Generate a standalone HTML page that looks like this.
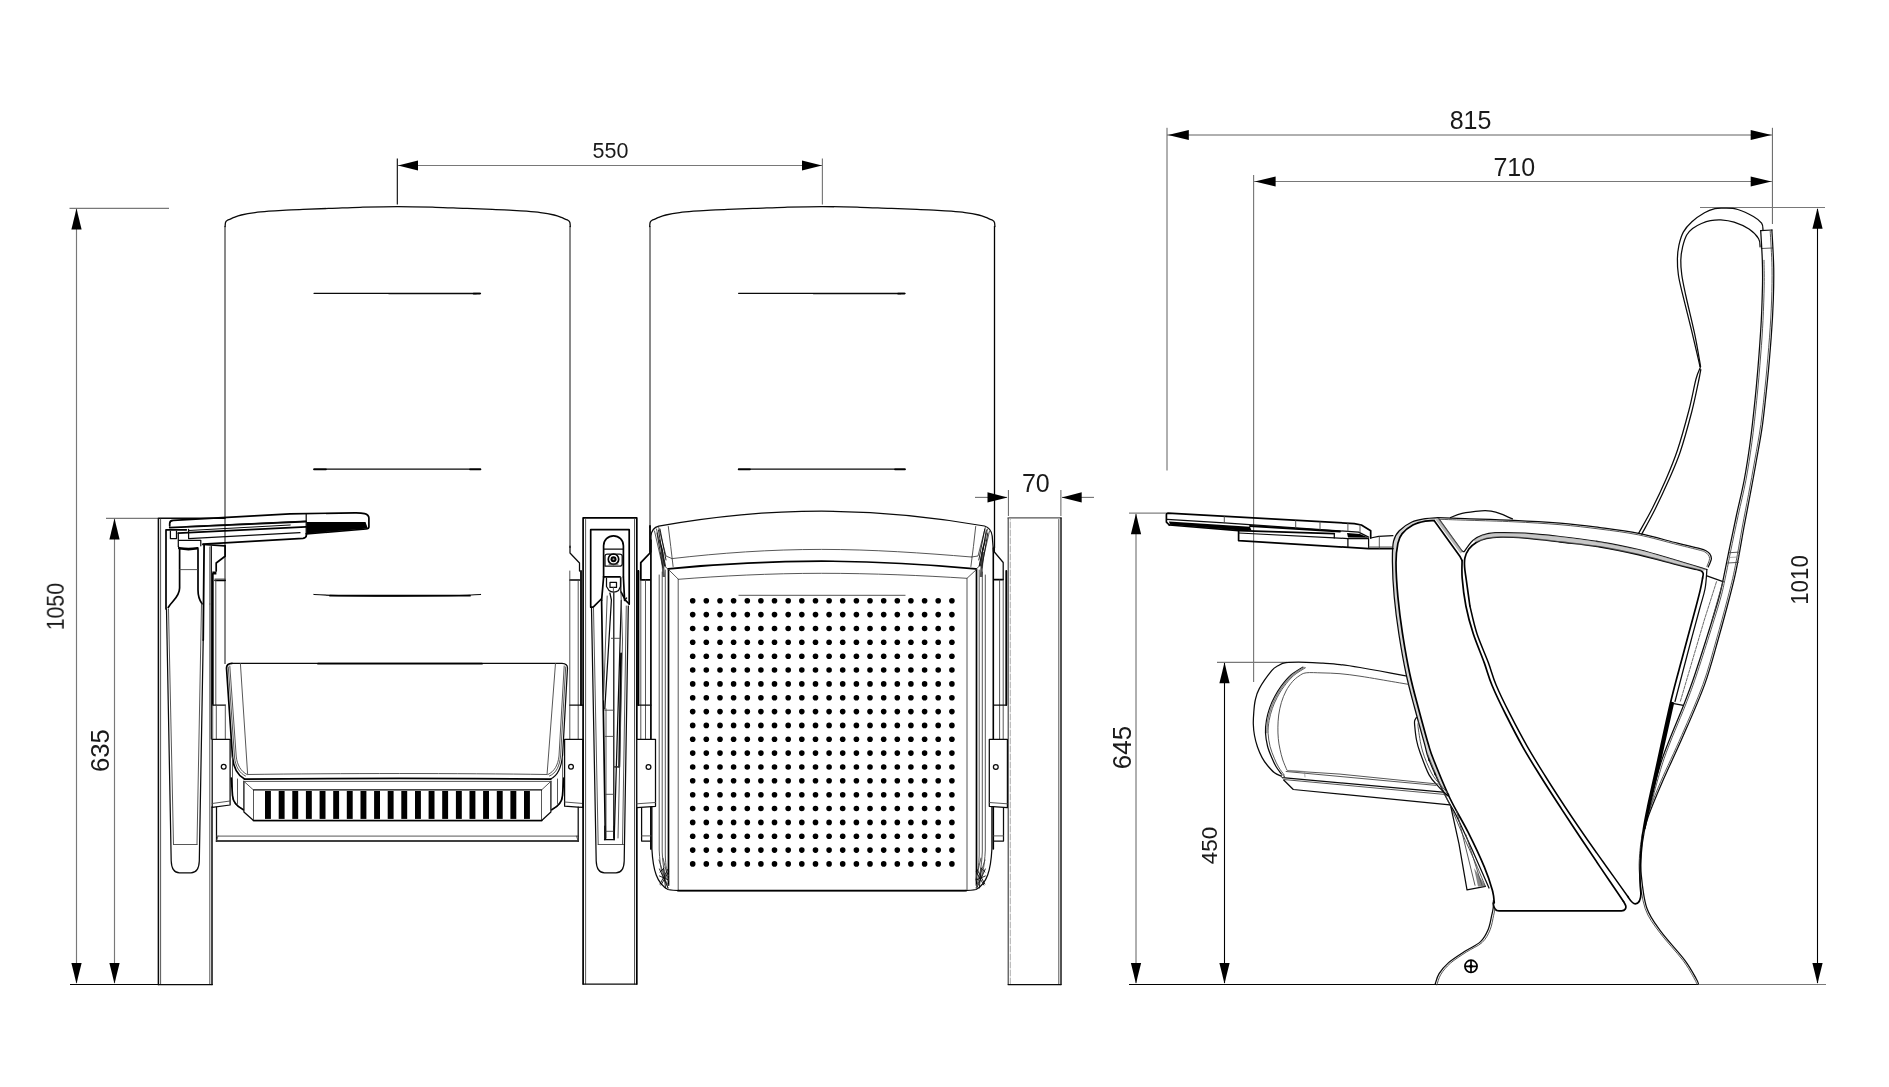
<!DOCTYPE html>
<html><head><meta charset="utf-8"><title>Auditorium chair dimensions</title>
<style>
html,body{margin:0;padding:0;background:#fff;}
body{width:1889px;height:1087px;overflow:hidden;font-family:"Liberation Sans",sans-serif;}
svg{display:block;position:absolute;left:0;top:0;}
svg *{vector-effect:none;}
.k{fill:none;stroke:#000;stroke-width:1.7;stroke-linecap:round;stroke-linejoin:round;}
.m{fill:none;stroke:#0a0a0a;stroke-width:1.25;stroke-linecap:round;stroke-linejoin:round;}
.g{fill:none;stroke:#444;stroke-width:0.9;stroke-linecap:round;stroke-linejoin:round;}
.v{fill:none;stroke:#151515;stroke-width:1;}
.h{fill:none;stroke:#888;stroke-width:0.7;stroke-linecap:round;stroke-linejoin:round;}
.dk{fill:none;stroke:#000;stroke-width:1.1;}
.dg{fill:none;stroke:#787878;stroke-width:1.15;}
.dl{fill:none;stroke:#606060;stroke-width:1;}
.a{fill:#000;stroke:none;}
.b{fill:#000;stroke:none;}
.w{fill:#fff;}
text{font-family:"Liberation Sans",sans-serif;fill:#1a1a1a;}
#dims{opacity:0.999;}
</style></head>
<body>
<svg width="1889" height="1087" viewBox="0 0 1889 1087">
<rect x="0" y="0" width="1889" height="1087" fill="#fff"/>
<!-- dims.svg -->
<g id="dims">
<!-- 1050 -->
<path class="dg" d="M69.500 208.400H169"/>
<path class="dg" d="M76.500 209V983"/>
<!-- 635 -->
<path class="dg" d="M106 518.300H158"/>
<path class="dg" d="M114.500 519V983"/>
<!-- floor left -->
<path class="dk" d="M70 984.500H159"/>
<!-- 550 -->
<path class="dk" d="M397.300 158.500V204.500"/>
<path class="dg" d="M822.400 158.500V204.500"/>
<path class="dg" d="M398 165.500H822"/>
<!-- 70 -->
<path class="dl" d="M1008.400 490V516"/>
<path class="dl" d="M1060.900 490V516"/>
<path class="dg" d="M975 497.400H1007"/>
<path class="dg" d="M1062 497.400H1094"/>
<!-- 815 -->
<path class="dl" d="M1167 127.800V470.500"/>
<path class="dl" d="M1167 135H1772"/>
<path class="dl" d="M1772.400 127.800V224"/>
<!-- 710 -->
<path class="dg" d="M1253.600 175V682"/>
<path class="dg" d="M1254 181.500H1772"/>
<!-- 645 -->
<path class="dl" d="M1129 513.100H1166"/>
<path class="dl" d="M1136 514V983"/>
<!-- 450 -->
<path class="dg" d="M1217 662.300H1287"/>
<path class="dk" d="M1224.500 663V983"/>
<!-- 1010 -->
<path class="dg" d="M1700 207.500H1825"/>
<path class="dk" d="M1817.500 209V983"/>
<!-- floor right -->
<path class="dk" d="M1129 984.500H1698"/>
<path class="dg" d="M1698 984.500H1826"/>
<!-- labels -->
<text x="610.500" y="158.200" font-size="21.500" text-anchor="middle">550</text>
<text x="1035.800" y="491.500" font-size="25" text-anchor="middle">70</text>
<text x="1470.500" y="129.100" font-size="25" text-anchor="middle">815</text>
<text x="1514.300" y="176.100" font-size="25" text-anchor="middle">710</text>
<text transform="translate(63.800 606.600) rotate(-90) scale(0.870 1)" font-size="24.500" text-anchor="middle">1050</text>
<text transform="translate(109.200 750.600) rotate(-90) scale(0.970 1)" font-size="26.500" text-anchor="middle">635</text>
<text transform="translate(1130.600 747.600) rotate(-90)" font-size="26" text-anchor="middle">645</text>
<text transform="translate(1216.800 845.400) rotate(-90)" font-size="22.500" fill="#333" text-anchor="middle">450</text>
<text transform="translate(1808.300 580) rotate(-90) scale(0.950 1)" font-size="23.500" fill="#333" text-anchor="middle">1010</text>
</g>

<!-- front_left.svg -->
<g id="front-left">
<!-- left end leg panel -->
<path class="m" d="M158.400 984.500V518.200H225" style="stroke-width:1.500"/>
<path class="g" d="M160.600 984V519"/>
<path class="g" d="M209.800 984V604"/>
<path class="m" d="M212 984.500V807" style="stroke-width:1.500"/>
<path class="m" d="M158 984.500H212.300"/>
<!-- left backrest -->
<path class="v" d="M225 664V226"/>
<path class="v" d="M570 548V226"/>
<path class="m" d="M570 546V553L579.500 563V571"/>
<path class="k" d="M570 580H579.500" />
<!-- slots on backrest -->
<path class="m" d="M314 293.300H480.500"/>
<path class="m" d="M389 293.700H476"/><path class="k" d="M473.500 293.600H480"/>
<path class="m" d="M314 469H480.500"/>
<path class="k" d="M314 469.300H326M470 469.300H480.500"/>
<path class="m" d="M314 594.500C330 595.600 350 596 398 596C440 596 465 595.600 480.500 594.500"/>
<path class="k" d="M330 595.700H470"/>
<!-- tablet (writing pad) -->
<path class="k" d="M169.700 526V523.500C169.700 521.500 171 520.500 173.200 520.400L290 513.900L355 512.800C362 512.700 368.900 513.500 368.900 518V527C368.900 528.300 368 528.800 366 529L306.400 533.800"/>
<path class="k" d="M169.700 527.600C200 526 250 524 306 521.700"/>
<path class="m" d="M306.200 514V534"/>
<path class="b" d="M306.400 522H365.500L367.800 528.600L306.400 533.600Z"/>
<path class="m" d="M186 526.500L306 521.200" />
<path class="k" d="M178.200 533.100L306 526.800"/>
<path class="m" d="M188.600 529.300V538.600L300 532.700"/>
<path class="k" d="M203 544.200L303 538.300C305.500 538 306.400 537 306.400 535V533.500"/>
<path class="m" d="M188.600 530.500L290 525" />
<!-- tablet hinge block -->
<path class="k" d="M166 609V529.800H186.400"/>
<path class="m" d="M170.400 531V538.600H176.500V531"/>
<path class="m" d="M178.300 533V546.400"/>
<path class="m" d="M178.500 540.300H200.800V545.800"/>
<path class="k" d="M179.300 548.300C185 549.300 192 549.300 197.500 548.300" style="stroke-width:2.600"/>
<path class="m" d="M178.500 546.400C178.500 548 179 548.600 180 548.800"/>
<!-- arm (tablet support) -->
<path class="k" d="M179.600 549.700V588C179.600 597 172 601 168.200 607.500"/>
<path class="k" d="M198 549.700V590C198 598 200 601 202 603.800"/>
<path class="g" d="M179.800 569.600H197.500"/>
<path class="m" d="M166.500 609L171.200 861C171.500 869 174 872.800 179.500 872.800H191C196.500 872.800 199 869 199.300 861L203.200 640"/>
<path class="k" d="M203.200 640L204.100 545" style="stroke-width:1.8"/>
<path class="g" d="M168.500 609L173.500 844.500"/>
<path class="g" d="M201.500 604L197 844.500"/>
<path class="g" d="M173.500 844.500H197"/>
<path class="g" d="M209.800 547V604"/>
<path class="m" d="M211.300 546.400V739"/>
<!-- bracket at backrest/left -->
<path class="k" d="M203 544.500L225.100 545.800"/>
<path class="k" d="M225.100 546V556.300L216.200 563V571"/>
<path class="b" d="M212.300 571.500H216.400V574.500H212.300Z"/>
<path class="k" d="M215 580.300H225.100"/>
<path class="g" d="M215 579H225.100"/>
<path class="k" d="M212.800 574V705" style="stroke-width:1.8"/>
<path class="g" d="M215.800 580V705"/>
<path class="m" d="M212.700 705H225.300"/>
<path class="g" d="M212.700 705V739M216.300 705V739M225.300 705V739"/>
<!-- left bracket of seat -->
<path class="m" d="M212.200 739.300H230.100V805L212.200 807.400Z"/>
<path class="g" d="M212.200 803.500L230.100 801"/>
<circle class="m" cx="223.700" cy="766.800" r="2.400"/>
<path class="m" d="M216.500 807V841"/>
<!-- bottom bar -->
<path class="g" d="M216.500 836.100H578.200"/>
<path class="k" d="M216.500 841H578.200"/>
<path class="m" d="M578.200 807V841"/>
<path class="g" d="M576.500 836.100L578.200 841"/>
<path class="g" d="M218 836.100L216.500 841"/>
<!-- seat (folded down) -->
<path class="k" d="M232 663.400C229 663.600 226.500 664.500 226.500 668L232.500 757C233.500 768 238 775.500 244.500 779"/>
<path class="g" d="M228.300 667L234.500 757C235.500 767 239.500 773 245.500 776"/>
<path class="g" d="M229.800 666L236.200 756C237 765 241 771.500 247 774.500"/>
<path class="m" d="M232 663.400H562C565 663.600 567.500 664.500 567.500 668L562.600 755C561.500 767 558 775.500 550.700 779"/>
<path class="g" d="M565.700 667L560.600 756C559.500 766 556.500 773 549.500 776"/>
<path class="g" d="M564.200 666L559 756C558 765 554.500 771.500 548 774.500"/>
<path class="k" d="M318 663.700H482"/>
<path class="g" d="M240.400 663.400L247.600 773.900"/>
<path class="g" d="M555.500 663.400L547.100 773.900"/>
<path class="g" d="M247.600 774.500C340 773.200 460 773.200 547.100 774.500"/>
<path class="k" d="M244.500 779.200C340 778.200 460 778.200 550.700 779.200"/>
<path class="g" d="M232.500 757V795.500C232.500 802 236 806 242 808.600"/>
<path class="k" d="M231.300 778L232.500 795.500C233 802 237 806.500 243.300 809.800"/>
<path class="g" d="M237.500 779V803.500"/>
<path class="g" d="M562.600 757V795.500C562.600 802 559 806 553.100 808.600"/>
<path class="k" d="M563.800 778L562.500 795.500C562 802 558 806.500 551.800 809.800"/>
<path class="g" d="M557.500 779V803.500"/>
<!-- grill box -->
<path class="m" d="M243.900 781.300V812L253.500 820.500H541.700L550.900 812V781.300"/>
<path class="g" d="M243.900 781.400H550.900"/>
<path class="g" d="M243.900 781.300L253.500 790V820.500"/>
<path class="g" d="M550.900 781.300L541.500 790V820.500"/>
<path class="m" d="M253.500 789.900H541.500"/>
<path class="k" d="M253.500 820.500H541.700"/>
<!-- right bracket of seat -->
<path class="g" d="M569.800 571V739M578.200 580V739"/>
<path class="m" d="M569.800 705H583"/>
<path class="m" d="M564.600 739.300H583V807.400L564.600 806.200Z"/>
<path class="g" d="M564.600 802L583 803.500"/>
<circle class="m" cx="571" cy="766.800" r="2.400"/>
</g>

<!-- front_mid.svg -->
<g id="front-mid">
<!-- middle leg -->
<path class="k" d="M583.100 984V517.900H636.800V984"/>
<path class="g" d="M585.600 984V519.500"/>
<path class="g" d="M634.500 984V519.500"/>
<path class="m" d="M583.100 984H636.800"/>
<path class="k" d="M581 571V705" style="stroke-width:1.8"/>
<path class="k" d="M638.300 571V705" style="stroke-width:1.8"/>
<!-- inner frame -->
<path class="k" d="M601.300 599L593.200 607.200H590.700V529.700H629.200V604" style="stroke-width:1.7"/>
<path class="k" d="M629.200 604L625.600 600.400L621 592"/>
<!-- pill -->
<path class="k" d="M603.600 576.800V545.700C603.600 540 608 535.800 613.500 535.800C619 535.800 623.400 540 623.400 545.700V576.800"/>
<path class="m" d="M603.600 549H623.400"/>
<path class="k" d="M603.600 576.800H620" style="stroke-width:1.8"/>
<path class="m" d="M605 566.200V556C605 554.500 606 554 607.500 554H619.500C621.500 554 622.200 554.500 622.200 556V564C622.200 565.500 621 566.200 619.500 566.200Z"/>
<circle class="k" cx="613.500" cy="559.200" r="5.200"/>
<circle cx="613.500" cy="559.200" r="3" fill="#000"/><circle cx="613.500" cy="559.200" r="1" fill="#999"/>
<path class="g" d="M609 564.200H618"/>
<!-- below pill -->
<path class="m" d="M610 582.400H616.500V587.400H610Z"/>
<path class="m" d="M606.500 578V586.500L609 590.500C611.500 592.500 616 592.500 618.500 590.500L620.500 586.500V578"/>
<path class="g" d="M613.400 587.400V592"/>
<path class="k" d="M603.600 577L601.600 600.400"/>
<path class="k" d="M623.400 577L624.600 600.400"/>
<path class="m" d="M620.800 577.500V591"/>
<!-- folded arm -->
<path class="m" d="M591.500 608L596.200 861C596.500 869 599 872.800 604.500 872.800H616C621.500 872.800 624 869 624.200 861L628.300 606"/>
<path class="g" d="M593.500 608L598.200 844.500"/>
<path class="g" d="M626.300 606L622.500 844.500"/>
<path class="g" d="M598.200 844.500H623.600"/>
<path class="k" d="M601.600 600.400L605.400 838.500"/>
<path class="m" d="M621.300 600.400L614.200 838.500"/>
<path class="k" d="M621.100 653.500L619.200 766.800" style="stroke-width:1.900"/>
<path class="m" d="M604.500 839.700H614.200"/>
<path class="m" d="M619.200 766.800H614.600"/>
<path class="m" d="M609.900 593L611.400 600L604.800 708.800"/>
<path class="g" d="M607.200 596L603.500 700"/>
<path class="m" d="M613.800 593V838"/>
<path class="g" d="M606 708.800V838"/>
<path class="m" d="M624.600 600.400L626.600 598"/>
<path class="g" d="M621 593L622.500 640L618 838"/>
<path class="g" d="M611.400 638.300H619.700M604.800 710.200H613.800M605.200 736.400H613.800M613.800 766.800H619M605.500 794.300H613.800M605.500 831.300H613.800"/>
<path class="m" d="M604.800 839.700V826M614.200 839.700V826"/>
</g>

<!-- front_right.svg -->
<g id="front-right">
<!-- right backrest -->
<path class="v" d="M650 528V226"/>
<path d="M994.500 548V226" fill="none" stroke="#000" style="stroke-width:1.300"/>
<path class="k" d="M650 526V553L640.800 562.600V579.900H650" style="stroke-width:1.8"/>
<path class="k" d="M650.900 540V849" style="stroke-width:1.7"/>
<path class="m" d="M994.400 546V552L1003.200 562.500V579.300"/><path class="k" d="M994.400 579.600H1003.200"/>
<path class="k" d="M993.300 548V849" style="stroke-width:1.6"/>
<!-- slots on backrest -->
<path class="m" d="M738.600 293.300H905"/>
<path class="m" d="M813.600 293.700H900.600"/><path class="k" d="M898 293.600H904.500"/>
<path class="m" d="M738.600 469H905"/>
<path class="k" d="M738.600 469.300H750M895 469.300H905"/>
<path class="g" d="M738.900 595.300H905.100"/>
<!-- folded seat cushion -->
<path class="m" d="M651 552V536C651.500 530.500 653.500 527.500 658.700 526.200C710 517 765 511.200 821.600 511.200C878 511.200 934 517 984.500 526C989.500 527.500 991.500 530.500 992.200 536L993.500 552"/>
<path class="g" d="M668.300 526.500C670 540 671.500 553 673.100 566.500"/>
<path class="g" d="M975.700 526.500C974.500 540 972.500 553 970.900 566.500"/>
<path class="g" d="M672 558.600C720 553 770 549.400 821.600 549.400C873 549.400 923 553 971.500 557"/>
<path class="k" d="M668.300 568.800C720 564 770 561.200 821.600 561.200C873 561.200 923 564 975.700 568.800"/>
<path class="g" d="M654.500 531L662.500 566"/>
<path class="g" d="M656.500 529L665 566.500L668 569"/>
<path class="g" d="M658.700 527.500L666 556L672 558.600"/>
<path class="g" d="M989.500 531L981.500 566"/>
<path class="g" d="M987.500 529L979 566.500L976 569"/>
<path class="g" d="M985.300 527.500L978 556L971.500 557"/>
<!-- seat back panel -->
<path class="k" d="M668.500 569V885"/>
<path class="k" d="M976.500 569V885"/>
<path class="g" d="M678.200 579.300V890"/>
<path class="g" d="M967 578.500V890"/>
<path class="g" d="M668.500 569.500L678.400 579.300"/>
<path class="g" d="M976.500 569.500L967 578.300"/>
<path class="g" d="M678.400 579.300C720 576 770 573.300 821.600 573.300C873 573.300 923 575.500 966.600 578.300"/>
<!-- seat sides & bottom -->
<path class="m" d="M651.900 800V849C653 870 657 884 668 889.500C672 890.500 676 890.600 680 890.600H964C968 890.600 972 890.500 976 889.500C987 884 990.800 870 991.900 849V800"/>
<path class="k" d="M678 890.700H966"/>
<path class="g" d="M659.200 575V850C660 868 662.500 880 668.500 885"/>
<path class="g" d="M662.200 572V852C663 868 665 878 668.500 881"/>
<path class="g" d="M665.300 570V855C665.700 866 666.700 873 668.500 876"/>
<path class="g" d="M985.300 575V850C984.500 868 982 880 976.500 885"/>
<path class="g" d="M982.300 572V852C981.500 868 979.500 878 976.500 881"/>
<path class="g" d="M979.200 570V855C978.800 866 977.800 873 976.500 876"/>
<path class="g" d="M659 860L668 888M663 858L668.300 880M985 860L976 888M981 858L975.700 880"/>
<!-- right end panel -->
<path class="v" d="M1008.200 984V518" style="stroke:#3a3a3a;stroke-width:1.1"/>
<path class="h" d="M1010.300 984V519.500" stroke-dasharray="6 2"/>
<path class="g" d="M1008 517.900H1061" style="stroke-width:1.400;stroke:#555"/>
<path class="g" d="M1058.800 984V519.500"/>
<path class="m" d="M1061 984.500V518" style="stroke-width:1.400"/>
<path class="m" d="M1008 984.500H1061"/>
<!-- corner hatch -->
<path class="m" d="M659.500 869L668 888M668 869L660 884M659.500 876L668.500 880M661 885L668.500 872M663.500 868L665.500 888M660 872L664 868" style="stroke-width:0.9"/>
<path class="m" d="M985.3 869.0 L976.8 888.0 M976.8 869.0 L984.8 884.0 M985.3 876.0 L976.3 880.0 M983.8 885.0 L976.3 872.0 M981.3 868.0 L979.3 888.0 M984.8 872.0 L980.8 868.0" style="stroke-width:0.9"/>
<path class="m" d="M658.500 530L664.500 566M660 529L666 560M657 533L663 568M661.500 546L665.500 566M659.500 540L662.500 552" style="stroke-width:0.9"/>
<path class="m" d="M986.3 530.0 L980.3 566.0 M984.8 529.0 L978.8 560.0 M987.8 533.0 L981.8 568.0 M983.3 546.0 L979.3 566.0 M985.3 540.0 L982.3 552.0" style="stroke-width:0.9"/>
<path d="M660.800 552L663.300 552L665 577L662.500 577Z" fill="#222" opacity="0.750"/>
<path d="M984 552L981.500 552L979.800 577L982.300 577Z" fill="#222" opacity="0.750"/>
<!-- left bracket -->
<path class="k" d="M638.300 571V705" style="stroke-width:1.800"/>
<path class="g" d="M640.800 580V739M645.500 580V739"/>
<path class="m" d="M638 705H651"/>
<path class="m w" d="M636.800 739.300H655.500V806.300L636.800 807.600Z" style="fill:#fff"/>
<path class="g" d="M636.800 803.800L655.500 802.500"/>
<circle class="m" cx="648.500" cy="766.900" r="2.400"/>
<path class="m" d="M641.600 807.600V841H651"/>
<path class="g" d="M641.600 835.900H651"/>
<!-- right bracket -->
<path class="k" d="M1006.300 571V705" style="stroke-width:1.900"/>
<path class="g" d="M999.600 580V739M1003.200 580V739"/>
<path class="m" d="M994 705H1005.800"/>
<path class="m w" d="M1007.400 739.300H989.300V806.300L1007.400 807.600Z" style="fill:#fff"/>
<path class="g" d="M989.300 802.500L1007.400 803.800"/>
<circle class="m" cx="995.800" cy="766.900" r="2.400"/>
<path class="m" d="M1003.500 807.600V841H993.500"/>
<path class="g" d="M993.500 835.900H1003.500"/>
</g>

<path class="m" d="M225.1 226.5C225.2 225.8 225.2 223.4 225.6 222.3C226.0 221.2 226.7 220.7 227.5 220.2C228.3 219.7 229.2 219.6 230.3 219.1C231.4 218.6 232.2 218.1 234.0 217.4C235.8 216.7 237.8 215.8 241.3 215.0C244.8 214.2 250.4 213.2 255.0 212.6C259.6 212.0 264.2 211.6 268.8 211.2C273.4 210.8 276.9 210.6 282.6 210.3C288.3 210.0 295.1 209.6 303.0 209.3C310.9 209.0 320.5 208.7 330.0 208.4C339.5 208.1 348.7 207.6 360.0 207.3C371.3 207.0 385.1 206.6 397.7 206.6C410.3 206.6 424.1 207.0 435.4 207.3C446.7 207.6 455.9 208.1 465.4 208.4C474.9 208.7 484.5 209.0 492.4 209.3C500.3 209.6 507.1 210.0 512.8 210.3C518.5 210.6 522.0 210.8 526.6 211.2C531.2 211.6 535.8 212.0 540.4 212.6C545.0 213.2 550.6 214.2 554.1 215.0C557.6 215.8 559.6 216.7 561.4 217.4C563.2 218.1 564.0 218.6 565.1 219.1C566.2 219.6 567.1 219.7 567.9 220.2C568.7 220.7 569.4 221.2 569.8 222.3C570.2 223.4 570.2 225.8 570.3 226.5" style="stroke-width:1.3"/>
<path class="m" d="M649.7 226.5C649.8 225.8 649.8 223.4 650.2 222.3C650.6 221.2 651.3 220.7 652.1 220.2C652.9 219.7 653.8 219.6 654.9 219.1C656.0 218.6 656.8 218.1 658.6 217.4C660.4 216.7 662.4 215.8 665.9 215.0C669.4 214.2 675.0 213.2 679.6 212.6C684.2 212.0 688.8 211.6 693.4 211.2C698.0 210.8 701.5 210.6 707.2 210.3C712.9 210.0 719.7 209.6 727.6 209.3C735.5 209.0 745.1 208.7 754.6 208.4C764.1 208.1 773.3 207.6 784.6 207.3C795.9 207.0 809.7 206.6 822.3 206.6C834.9 206.6 848.7 207.0 860.0 207.3C871.3 207.6 880.5 208.1 890.0 208.4C899.5 208.7 909.1 209.0 917.0 209.3C924.9 209.6 931.7 210.0 937.4 210.3C943.1 210.6 946.6 210.8 951.2 211.2C955.8 211.6 960.4 212.0 965.0 212.6C969.6 213.2 975.2 214.2 978.7 215.0C982.2 215.8 984.2 216.7 986.0 217.4C987.8 218.1 988.6 218.6 989.7 219.1C990.8 219.6 991.7 219.7 992.5 220.2C993.3 220.7 994.0 221.2 994.4 222.3C994.8 223.4 994.8 225.8 994.9 226.5" style="stroke-width:1.3"/>
<g id="side"><path class="m" d="M1763.0 229.8C1762.8 228.7 1763.2 225.4 1761.6 223.2C1760.0 221.0 1757.4 218.8 1753.4 216.5C1749.4 214.2 1742.6 210.9 1737.8 209.5C1733.0 208.1 1728.3 208.3 1724.5 208.2C1720.7 208.1 1718.2 207.9 1714.9 208.7C1711.6 209.5 1708.3 210.6 1704.5 212.8C1700.7 215.0 1695.4 218.5 1691.9 221.7C1688.4 224.9 1685.5 228.1 1683.3 232.1C1681.1 236.1 1679.9 240.9 1678.9 245.4C1677.9 249.9 1677.5 253.9 1677.4 258.8C1677.3 263.7 1677.6 269.5 1678.4 275.0C1679.2 280.5 1679.8 282.6 1682.0 291.8C1684.2 301.0 1688.7 318.6 1691.5 330.2C1694.3 341.8 1697.5 355.6 1698.9 361.7C1700.3 367.8 1699.7 365.7 1699.8 366.5"/>
<path class="m" d="M1760.1 246.9C1759.8 245.5 1760.4 241.7 1758.6 238.7C1756.8 235.7 1753.1 231.9 1749.0 229.1C1744.9 226.3 1738.8 223.6 1734.1 222.1C1729.4 220.6 1724.8 220.1 1720.8 219.8C1716.8 219.6 1713.6 220.0 1710.4 220.6C1707.2 221.2 1704.5 222.2 1701.5 223.5C1698.5 224.8 1695.1 226.5 1692.6 228.4C1690.1 230.3 1688.4 231.9 1686.7 235.0C1685.0 238.1 1683.6 242.7 1682.6 246.9C1681.6 251.1 1680.9 255.5 1680.8 260.2C1680.7 264.9 1681.0 269.1 1681.8 275.0C1682.6 280.9 1683.7 285.7 1685.8 295.5C1687.9 305.3 1692.1 321.9 1694.6 333.7C1697.1 345.5 1699.6 361.0 1700.6 366.5"/>
<path class="m" d="M1700.3 367.5C1699.6 369.4 1697.9 371.9 1696.0 379.0C1694.1 386.1 1692.1 398.2 1689.0 410.0C1685.9 421.8 1681.4 438.3 1677.5 450.0C1673.6 461.7 1669.9 470.3 1665.7 480.0C1661.5 489.7 1657.0 499.1 1652.5 508.0C1648.0 516.9 1640.9 529.2 1638.6 533.4"/>
<path class="m" d="M1700.8 369.5C1700.4 371.4 1700.1 373.9 1698.6 381.0C1697.1 388.1 1694.8 400.2 1691.7 412.0C1688.6 423.8 1684.1 440.5 1680.2 452.0C1676.3 463.5 1672.5 471.5 1668.3 481.0C1664.1 490.5 1659.6 500.1 1655.2 509.0C1650.8 517.9 1644.0 529.9 1641.8 534.1"/>
<path class="m" d="M1760.7 230.7L1771.9 230.0"/>
<path class="g" d="M1761.3 248.5L1772.6 248.0"/>
<path class="m" d="M1771.9 230.0C1772.2 236.2 1773.5 255.7 1773.7 267.4C1773.9 279.1 1773.7 288.4 1773.3 300.0C1772.9 311.6 1772.2 323.9 1771.2 337.2C1770.2 350.5 1769.0 365.4 1767.5 380.0C1766.0 394.6 1764.3 411.3 1762.5 424.6C1760.7 437.9 1758.5 448.4 1756.5 460.0C1754.5 471.6 1752.3 483.3 1750.2 494.5C1748.1 505.7 1746.3 514.4 1744.0 527.0C1741.7 539.6 1738.6 558.2 1736.1 570.4C1733.6 582.6 1731.9 588.4 1728.9 600.0C1725.9 611.6 1722.0 625.9 1718.0 640.0C1714.0 654.1 1710.4 668.7 1704.6 684.6C1698.8 700.5 1690.5 719.1 1683.4 735.3C1676.4 751.5 1668.1 768.5 1662.3 781.9C1656.5 795.3 1651.5 807.4 1648.5 815.7C1645.5 824.1 1645.4 825.8 1644.2 832.0C1643.0 838.2 1641.9 845.8 1641.4 853.0C1640.9 860.2 1640.4 866.2 1641.3 875.4C1642.2 884.6 1643.6 898.9 1646.9 908.3C1650.2 917.7 1654.7 923.1 1661.0 931.7C1667.3 940.3 1678.6 952.1 1684.5 959.9C1690.4 967.7 1693.9 974.7 1696.2 978.7C1698.5 982.7 1698.1 983.1 1698.5 984.0"/>
<path class="g" d="M1770.2 231.0C1770.5 237.1 1771.8 255.9 1772.0 267.4C1772.2 278.9 1772.0 288.4 1771.6 300.0C1771.2 311.6 1770.5 323.9 1769.5 337.2C1768.5 350.5 1767.2 365.4 1765.8 380.0C1764.3 394.6 1762.6 411.3 1760.8 424.6C1759.0 437.9 1756.8 448.4 1754.8 460.0C1752.8 471.6 1750.6 483.3 1748.5 494.5C1746.4 505.7 1744.6 514.4 1742.3 527.0C1740.0 539.6 1736.9 558.2 1734.4 570.4C1731.9 582.6 1730.2 588.4 1727.2 600.0C1724.2 611.6 1720.3 625.9 1716.3 640.0C1712.2 654.1 1708.7 668.7 1702.9 684.6C1697.1 700.5 1688.8 719.1 1681.7 735.3C1674.7 751.5 1666.4 768.5 1660.6 781.9C1654.8 795.3 1649.3 810.1 1647.0 815.7"/>
<path class="g" d="M1642.5 832.3C1642.0 835.8 1640.2 846.1 1639.7 853.3C1639.2 860.5 1638.7 866.5 1639.6 875.7C1640.5 884.9 1641.9 899.2 1645.2 908.6C1648.5 918.0 1653.0 923.4 1659.3 932.0C1665.6 940.6 1676.9 952.4 1682.8 960.2C1688.7 968.0 1692.2 975.0 1694.5 979.0C1696.8 983.0 1696.4 983.4 1696.8 984.3"/>
<path class="m" d="M1760.7 230.7C1761.0 235.6 1762.0 251.0 1762.3 260.0C1762.6 269.0 1762.7 274.8 1762.5 284.8C1762.3 294.8 1761.9 308.4 1761.3 320.0C1760.7 331.6 1760.0 341.4 1759.0 354.7C1758.0 368.0 1756.5 385.4 1755.0 400.0C1753.5 414.6 1752.0 428.7 1750.2 442.0C1748.4 455.3 1746.5 467.8 1744.2 480.0C1741.9 492.2 1739.1 503.0 1736.5 515.0C1733.9 527.0 1731.0 541.2 1728.7 552.1C1726.5 563.0 1724.7 572.4 1723.0 580.4C1721.3 588.4 1721.1 590.1 1718.3 600.0C1715.5 609.9 1710.2 626.7 1706.0 640.0C1701.8 653.3 1696.8 669.0 1693.0 680.0C1689.2 691.0 1688.5 692.6 1683.4 705.7C1678.3 718.8 1668.3 741.0 1662.3 758.6C1656.3 776.2 1650.0 802.7 1647.5 811.5"/>
<path class="g" d="M1764.0 260.3C1764.0 264.4 1764.4 275.1 1764.2 285.1C1764.0 295.1 1763.6 308.7 1763.0 320.3C1762.4 331.9 1761.8 341.7 1760.7 355.0C1759.7 368.3 1758.2 385.8 1756.7 400.3C1755.2 414.9 1753.7 429.0 1751.9 442.3C1750.1 455.6 1748.2 468.1 1745.9 480.3C1743.6 492.5 1740.8 503.3 1738.2 515.3C1735.6 527.3 1732.7 541.5 1730.4 552.4C1728.2 563.3 1726.4 572.7 1724.7 580.7C1723.0 588.7 1722.8 590.4 1720.0 600.3C1717.2 610.2 1711.9 627.0 1707.7 640.3C1703.5 653.6 1698.5 669.3 1694.7 680.3C1690.9 691.2 1690.2 692.9 1685.1 706.0C1680.0 719.1 1670.0 741.3 1664.0 758.9C1658.0 776.5 1651.7 803.0 1649.2 811.8"/>
<path class="g" d="M1729.4 552.7L1739.7 552.1"/>
<path class="h" d="M1728.5 557.5L1739.0 557.0"/>
<path class="g" d="M1727.5 563.0L1738.4 562.4"/>
<path class="m" d="M1438.0 517.7C1443.3 517.9 1457.3 518.4 1470.0 518.8C1482.7 519.2 1499.0 519.6 1514.0 520.3C1529.0 521.0 1545.7 522.0 1560.0 523.2C1574.3 524.4 1586.9 525.9 1600.0 527.6C1613.1 529.3 1625.7 530.8 1638.6 533.4C1651.5 536.0 1667.1 540.6 1677.3 543.1C1687.5 545.6 1695.2 547.3 1700.0 548.6C1704.8 549.9 1704.4 549.9 1706.0 550.8C1707.6 551.7 1708.9 552.5 1709.8 553.8C1710.7 555.1 1711.4 557.0 1711.4 558.5C1711.4 560.0 1710.5 561.6 1710.0 563.0C1709.5 564.4 1708.5 566.3 1708.2 567.0"/>
<path class="g" d="M1440.0 519.3C1445.0 519.5 1457.7 519.9 1470.0 520.3C1482.3 520.7 1499.0 521.1 1514.0 521.8C1529.0 522.5 1545.7 523.5 1560.0 524.7C1574.3 525.9 1586.9 527.4 1600.0 529.1C1613.1 530.8 1625.7 532.3 1638.6 534.9C1651.5 537.5 1667.2 542.1 1677.3 544.6C1687.4 547.1 1694.4 548.8 1699.0 550.0C1703.6 551.2 1703.5 551.2 1705.0 552.0C1706.5 552.8 1707.4 553.7 1708.2 554.8C1709.0 555.9 1709.6 557.1 1709.6 558.5C1709.6 559.9 1708.8 561.7 1708.3 563.0C1707.8 564.3 1707.1 565.9 1706.9 566.5"/>
<path class="m" d="M1450.5 517.6C1452.4 516.9 1456.9 514.5 1462.1 513.4C1467.2 512.3 1476.6 511.3 1481.4 510.9C1486.2 510.5 1487.9 510.7 1491.1 511.2C1494.3 511.7 1497.2 512.5 1500.8 513.8C1504.3 515.1 1510.5 518.0 1512.4 518.9"/>
<path class="m" d="M1462.1 551.0C1462.4 551.1 1463.3 552.1 1464.1 551.6C1464.9 551.1 1465.5 549.6 1467.0 547.7C1468.5 545.8 1470.2 542.5 1472.8 540.4C1475.4 538.3 1478.6 536.4 1482.4 535.1C1486.2 533.8 1488.8 533.0 1495.9 532.7C1503.0 532.4 1514.2 532.6 1524.9 533.2C1535.6 533.8 1547.5 535.1 1560.0 536.5C1572.5 537.9 1586.9 539.6 1600.0 541.8C1613.1 544.0 1625.7 546.4 1638.6 549.5C1651.5 552.6 1665.9 557.2 1677.3 560.5C1688.7 563.8 1702.0 568.0 1706.9 569.5"/>
<path class="k" d="M1469.9 606.0C1469.3 601.7 1467.2 586.5 1466.3 580.0C1465.4 573.5 1464.8 570.7 1464.6 567.0C1464.4 563.3 1464.2 561.0 1464.9 558.0C1465.6 555.0 1467.0 551.7 1468.9 549.1C1470.9 546.5 1473.7 544.1 1476.6 542.3C1479.5 540.5 1482.3 539.4 1486.3 538.5C1490.3 537.6 1494.4 537.1 1500.8 537.0C1507.2 536.9 1515.0 537.2 1524.9 538.0C1534.8 538.8 1547.5 540.4 1560.0 541.9C1572.5 543.4 1586.9 544.7 1600.0 546.8C1613.1 548.9 1625.7 551.6 1638.6 554.6C1651.5 557.6 1667.6 562.3 1677.3 564.8C1687.0 567.3 1693.0 568.5 1697.0 569.5C1701.0 570.5 1700.5 570.3 1701.5 571.0C1702.5 571.7 1703.0 572.3 1703.2 573.5C1703.4 574.7 1702.7 577.2 1702.6 578.0"/>
<path d="M1472.8 540.4L1482.4 535.1L1495.9 532.7L1524.9 533.2L1560.0 536.5L1600.0 541.8L1638.6 549.5L1677.3 560.5L1706.9 569.5L1703.0 571.0L1697.0 569.5L1677.3 564.8L1638.6 554.6L1600.0 546.8L1560.0 541.9L1524.9 538.0L1500.8 537.0L1486.3 538.5L1476.6 542.3Z" fill="#999" stroke="none" opacity="0.55"/>
<path d="M1438.0 517.7L1425.4 518.7L1411.9 522.0L1399.3 530.7L1393.5 541.4L1392.4 562.0L1394.2 596.8L1398.8 633.5L1406.1 674.0L1414.4 707.0L1424.5 743.8L1429.1 760.0L1445.2 795.6L1449.8 798.0L1433.7 760.0L1428.2 743.8L1418.1 707.0L1409.8 674.0L1402.5 633.5L1397.9 596.8L1396.0 562.6L1397.9 543.3L1402.2 533.6L1412.9 525.0L1425.4 521.1L1434.1 520.6Z" fill="#aaa" stroke="none" opacity="0.5"/>
<path class="m" d="M1438.0 517.7C1435.9 517.9 1429.8 518.0 1425.4 518.7C1421.1 519.4 1416.2 520.0 1411.9 522.0C1407.6 524.0 1402.4 527.5 1399.3 530.7C1396.2 533.9 1394.7 536.2 1393.5 541.4C1392.3 546.6 1392.3 552.8 1392.4 562.0C1392.5 571.2 1393.1 584.9 1394.2 596.8C1395.3 608.7 1396.8 620.6 1398.8 633.5C1400.8 646.4 1403.5 661.8 1406.1 674.0C1408.7 686.2 1411.3 695.4 1414.4 707.0C1417.5 718.6 1422.0 735.0 1424.5 743.8C1427.0 752.6 1425.6 751.4 1429.1 760.0C1432.5 768.6 1440.7 786.4 1445.2 795.6C1449.7 804.8 1451.9 806.8 1456.0 815.0C1460.1 823.2 1465.7 835.5 1470.0 845.0C1474.3 854.5 1478.8 864.8 1482.0 872.0C1485.2 879.2 1487.8 885.3 1489.0 888.0"/>
<path class="k" d="M1434.1 520.6C1432.6 520.7 1428.9 520.4 1425.4 521.1C1421.9 521.8 1416.8 522.9 1412.9 525.0C1409.0 527.1 1404.7 530.6 1402.2 533.6C1399.7 536.6 1398.9 538.5 1397.9 543.3C1396.9 548.1 1396.0 553.7 1396.0 562.6C1396.0 571.5 1396.8 585.0 1397.9 596.8C1399.0 608.6 1400.5 620.6 1402.5 633.5C1404.5 646.4 1407.2 661.8 1409.8 674.0C1412.4 686.2 1415.0 695.4 1418.1 707.0C1421.2 718.6 1425.6 735.0 1428.2 743.8C1430.8 752.6 1430.1 751.0 1433.7 760.0C1437.3 769.0 1444.0 785.9 1449.8 798.0C1455.5 810.1 1462.5 820.9 1468.2 832.4C1474.0 843.9 1480.3 857.3 1484.3 866.9C1488.3 876.5 1490.6 883.9 1492.3 889.9C1494.0 895.9 1494.0 900.8 1494.3 903.0"/>
<path class="k" d="M1434.1 520.6L1460.2 556.8L1462.1 560.7"/>
<path class="m" d="M1438.0 517.7L1462.1 551.0"/>
<path d="M1435.5 519.5L1438.5 517.8L1463 551.5L1460.5 553.5Z" fill="#888" stroke="none" opacity="0.6"/>
<path class="k" d="M1462.1 560.7C1462.1 563.7 1461.6 570.9 1462.2 578.4C1462.8 585.9 1464.1 596.8 1465.9 606.0C1467.7 615.2 1470.1 624.0 1473.2 633.5C1476.3 643.0 1481.2 654.2 1484.3 662.9C1487.4 671.6 1488.5 676.8 1492.1 685.5C1495.7 694.2 1500.8 704.7 1506.0 715.0C1511.2 725.3 1517.2 737.0 1523.0 747.3C1528.8 757.6 1534.6 766.7 1541.0 777.0C1547.4 787.3 1555.1 799.1 1561.6 809.1C1568.1 819.1 1573.6 827.3 1580.0 837.0C1586.4 846.7 1593.0 856.4 1600.2 867.1C1607.5 877.8 1619.6 895.7 1623.5 901.4"/>
<path class="k" d="M1469.9 606.0C1471.1 610.6 1473.8 624.1 1476.9 633.5C1480.0 642.9 1485.1 653.9 1488.3 662.5C1491.5 671.1 1492.5 676.4 1496.1 685.0C1499.7 693.6 1504.8 704.0 1510.0 714.2C1515.2 724.4 1521.3 736.0 1527.2 746.3C1533.1 756.6 1538.8 765.7 1545.2 776.0C1551.6 786.3 1559.2 798.0 1565.8 808.0C1572.4 818.0 1578.1 826.3 1584.8 836.0C1591.5 845.7 1598.8 855.9 1606.0 866.0C1613.2 876.1 1624.2 891.4 1627.8 896.5" style="stroke-width:1.5"/>
<path class="k" d="M1627.800 896.500C1630.500 900.500 1632 903.800 1635.300 903.800C1639 903.800 1640.800 900 1641 893"/>
<path class="k" d="M1493.200 903C1493.600 908 1495 910.900 1499 910.900H1621.500C1625 910.900 1627 908 1625.200 904.500L1623.500 901.400"/>
<path class="k" d="M1702.6 578.0C1702.2 579.9 1701.7 584.1 1700.4 589.4C1699.2 594.7 1698.0 599.1 1695.1 610.0C1692.2 620.9 1687.0 639.8 1683.0 655.0C1679.0 670.2 1675.3 682.5 1670.8 701.5C1666.3 720.5 1659.7 752.0 1655.9 769.2C1652.1 786.5 1650.1 794.9 1648.0 805.0C1645.9 815.1 1644.5 821.6 1643.3 829.9C1642.1 838.2 1641.1 846.6 1640.6 855.0C1640.0 863.4 1639.9 873.5 1640.0 880.0C1640.1 886.5 1640.8 891.7 1641.0 894.0"/>
<path class="m" d="M1706.9 569.5C1706.6 572.8 1706.3 582.2 1705.0 589.0C1703.7 595.8 1702.3 599.0 1699.3 610.0C1696.3 621.0 1691.2 639.8 1687.2 655.0C1683.2 670.2 1677.0 693.8 1675.0 701.5"/>
<path d="M1670.800 701.500L1674.300 702.500L1660 766L1650.500 806L1645.500 829L1643.300 829.900L1648 805L1655.900 769.200Z" fill="#000" stroke="none"/>
<path class="m" d="M1673.9 703.6L1683.4 705.3"/>
<path class="m" d="M1706.9 575.9L1723.0 581.7"/>
<path class="g" d="M1716.5 581.7L1704.3 620.0L1680.3 701.5" stroke-dasharray="3 1.2" style="stroke-width:0.8"/>
<path class="g" d="M1723.0 581.7L1712.0 620.0"/>
<path class="g" d="M1427.5 754.0C1429.6 759.0 1436.1 775.1 1440.0 784.0C1443.9 792.9 1447.2 798.9 1450.9 807.1C1454.6 815.3 1457.8 823.5 1462.0 833.0C1466.2 842.5 1472.1 855.1 1476.0 864.0C1479.9 872.9 1483.8 882.7 1485.4 886.4"/>
<path class="m" d="M1416.4 717.5C1416.1 718.1 1414.9 719.5 1414.6 721.0C1414.3 722.5 1414.5 723.5 1414.8 726.7C1415.1 729.9 1415.7 735.8 1416.5 740.0C1417.3 744.2 1417.8 746.2 1419.9 752.0C1422.0 757.8 1426.0 769.2 1429.1 774.9C1432.2 780.6 1435.2 782.9 1438.3 786.4C1441.4 789.9 1446.0 794.1 1447.5 795.6"/>
<path class="g" d="M1418.5 722.0C1418.5 723.0 1417.5 723.2 1418.2 728.0C1418.9 732.8 1420.3 743.5 1422.5 751.0C1424.7 758.5 1428.5 767.3 1431.5 773.0C1434.5 778.7 1437.6 781.5 1440.5 785.0C1443.4 788.5 1447.6 792.5 1449.0 794.0"/>
<path d="M1428 757l2 3.500-1.500 0.800zM1434 771l2 3.500-1.500 0.800z" fill="#000"/>
<path class="m" d="M1450.9 807.1L1459.0 843.9L1467.0 889.9L1485.4 886.4"/>
<path class="g" d="M1456.7 811.0L1475.0 885.3"/>
<path class="g" d="M1465.9 834.7L1482.0 885.3"/>
<path d="M1474 868L1486 886.400L1478 886.400Z" fill="#555" opacity="0.700"/>
<path class="m" d="M1493.4 900.6C1493.4 901.8 1493.5 905.6 1493.2 908.0C1492.9 910.4 1492.6 911.4 1491.8 914.9C1491.0 918.4 1490.2 924.7 1488.3 929.2C1486.4 933.7 1484.3 938.2 1480.3 941.9C1476.3 945.6 1469.8 948.0 1464.5 951.5C1459.2 955.0 1452.8 958.9 1448.6 962.6C1444.4 966.3 1441.3 970.1 1439.1 973.7C1436.8 977.3 1435.8 982.5 1435.1 984.3"/>
<path class="g" d="M1495.0 908.6C1494.8 909.8 1494.4 912.0 1493.6 915.5C1492.8 919.0 1492.0 925.3 1490.1 929.8C1488.2 934.3 1486.1 938.8 1482.1 942.5C1478.1 946.2 1471.6 948.6 1466.3 952.1C1461.0 955.6 1454.6 959.5 1450.4 963.2C1446.2 966.9 1443.1 970.7 1440.9 974.3C1438.6 977.9 1437.6 983.1 1436.9 984.9"/>
<circle class="k" cx="1471" cy="966.300" r="6.100"/>
<path class="k" d="M1465.800 966.300H1476.200M1471 961.100V971.500"/>
<circle cx="1471" cy="966.300" r="1.800" fill="#000"/>
<path class="m" d="M1405.7 675.9C1401.4 675.1 1387.6 672.4 1380.0 671.0C1372.4 669.6 1366.7 668.6 1360.0 667.5C1353.3 666.4 1346.2 665.3 1340.0 664.6C1333.8 663.9 1328.7 663.6 1323.0 663.2C1317.3 662.8 1312.2 662.4 1306.0 662.3C1299.8 662.2 1290.7 662.1 1286.0 662.7C1281.3 663.3 1280.4 664.5 1278.0 665.8C1275.6 667.1 1274.8 666.9 1271.7 670.7C1268.6 674.5 1262.0 683.7 1259.3 688.6C1256.6 693.5 1256.2 696.1 1255.3 700.0C1254.4 703.9 1254.1 708.1 1253.8 712.1C1253.5 716.1 1253.2 719.8 1253.3 723.7C1253.4 727.6 1253.8 731.6 1254.5 735.5C1255.2 739.4 1256.2 743.3 1257.5 747.0C1258.8 750.7 1260.4 754.5 1262.1 757.6C1263.8 760.7 1265.4 763.0 1267.5 765.5C1269.6 768.0 1272.2 771.0 1274.5 772.8C1276.8 774.6 1280.2 775.6 1281.4 776.2"/>
<path class="m" d="M1302.8 667.2C1300.8 668.5 1294.6 671.9 1291.0 675.0C1287.4 678.1 1284.2 682.2 1281.4 685.9C1278.7 689.6 1276.5 693.3 1274.5 697.0C1272.5 700.7 1271.0 704.1 1269.7 707.9C1268.4 711.7 1267.2 715.9 1266.5 720.0C1265.8 724.1 1265.3 728.5 1265.5 732.8C1265.7 737.1 1266.5 741.9 1267.5 746.0C1268.5 750.1 1270.3 754.2 1271.7 757.6C1273.1 761.0 1274.4 763.8 1276.0 766.5C1277.6 769.2 1280.5 772.8 1281.4 774.1"/>
<path class="g" d="M1305.4 667.8C1303.4 669.1 1297.2 672.5 1293.6 675.6C1290.0 678.7 1286.8 682.8 1284.0 686.5C1281.2 690.2 1279.0 693.9 1277.1 697.6C1275.1 701.3 1273.6 704.7 1272.3 708.5C1271.0 712.3 1269.8 716.5 1269.1 720.6C1268.4 724.8 1267.9 729.1 1268.1 733.4C1268.3 737.7 1269.1 742.5 1270.1 746.6C1271.1 750.7 1272.9 754.8 1274.3 758.2C1275.7 761.6 1277.0 764.4 1278.6 767.1C1280.2 769.9 1283.1 773.4 1284.0 774.7"/>
<path class="h" d="M1304.1 667.5C1302.1 668.8 1295.9 672.2 1292.3 675.3C1288.7 678.4 1285.5 682.5 1282.7 686.2C1280.0 689.9 1277.8 693.6 1275.8 697.3C1273.8 701.0 1272.3 704.4 1271.0 708.2C1269.7 712.0 1268.5 716.1 1267.8 720.3C1267.1 724.4 1267.0 731.0 1266.8 733.1" stroke-dasharray="1 0.800" style="stroke-width:1.600"/>
<path class="g" d="M1408.1 684.3C1403.4 683.5 1388.0 680.9 1380.0 679.5C1372.0 678.1 1366.7 677.2 1360.0 676.2C1353.3 675.2 1346.3 674.2 1340.0 673.7C1333.7 673.2 1327.6 673.0 1322.0 672.9C1316.4 672.8 1310.0 672.3 1306.2 672.8C1302.4 673.3 1301.3 674.5 1299.0 676.0C1296.7 677.5 1294.6 679.2 1292.4 681.7C1290.2 684.2 1287.8 687.5 1286.0 691.0C1284.2 694.5 1282.6 698.4 1281.4 702.4C1280.2 706.4 1279.3 710.9 1278.7 715.0C1278.1 719.1 1278.0 723.3 1277.9 727.2C1277.8 731.1 1278.0 734.8 1278.3 738.5C1278.6 742.2 1279.2 745.7 1280.0 749.3C1280.8 752.9 1281.6 756.5 1282.8 760.0C1284.0 763.5 1286.2 768.3 1286.9 770.0"/>
<path class="g" d="M1286.1 771.5L1436.0 785.4"/>
<path class="g" d="M1287.6 770.7L1340.0 774.1L1438.3 784.1"/>
<path class="m" d="M1282.5 777.6L1442.9 792.2"/>
<path class="g" d="M1284.5 779.6L1444.0 794.4"/>
<path class="m" d="M1283.7 780.0L1293.3 789.5L1449.8 804.8"/>
<circle class="g" cx="1282.800" cy="776.300" r="1.500"/>
<path class="h" d="M1289.7 770.4L1304.5 771.5L1305.0 777.0"/>
<path class="k" d="M1169.300 525L1166.400 522.100V514.500C1166.400 513.500 1167 513.100 1168 513.100L1354.300 523.600L1361.400 525L1370.700 530.700V538"/>
<path class="m" d="M1167.100 519.300L1224.300 522.900L1295.700 527.900L1358.600 532.100L1368.600 537.100"/>
<path class="k" d="M1169.300 525L1238.600 530.700L1334.300 533.600" />
<path d="M1169 521.600L1250 526.800L1251.500 530.600L1238.600 530.300L1170 524.700Z" fill="#000" stroke="none"/>
<path class="k" d="M1250 526L1340 531.500" style="stroke-width:1.800"/>
<path class="g" d="M1224.300 516.500V522.900M1295.700 520.500V527.900M1320 521.800V529.500M1347.900 523.400V531.500M1360 525V533"/>
<path class="k" d="M1238.600 530.700V540.700L1368.600 548.600H1392.900"/>
<path class="m" d="M1238.600 533L1334.300 537.900V533.600"/>
<path class="m" d="M1334.300 537.900L1347.900 538.600V546.800"/>
<path class="m" d="M1347.900 538.600H1368.600V548.300"/>
<path d="M1347 533L1360 534L1368.500 537.800L1348 537.600Z" fill="#000" stroke="none"/>
<path class="m" d="M1370.700 538L1378.600 536.400L1392.900 535.700"/>
<path class="g" d="M1379.300 536.600V548.300"/>
<path class="g" d="M1368.600 547H1392.900"/></g>
<g fill="#000"><circle cx="692.7" cy="600.8" r="2.8"/><circle cx="706.3" cy="600.8" r="2.8"/><circle cx="720.0" cy="600.8" r="2.8"/><circle cx="733.6" cy="600.8" r="2.8"/><circle cx="747.3" cy="600.8" r="2.8"/><circle cx="760.9" cy="600.8" r="2.8"/><circle cx="774.5" cy="600.8" r="2.8"/><circle cx="788.2" cy="600.8" r="2.8"/><circle cx="801.8" cy="600.8" r="2.8"/><circle cx="815.5" cy="600.8" r="2.8"/><circle cx="829.1" cy="600.8" r="2.8"/><circle cx="842.7" cy="600.8" r="2.8"/><circle cx="856.4" cy="600.8" r="2.8"/><circle cx="870.0" cy="600.8" r="2.8"/><circle cx="883.7" cy="600.8" r="2.8"/><circle cx="897.3" cy="600.8" r="2.8"/><circle cx="910.9" cy="600.8" r="2.8"/><circle cx="924.6" cy="600.8" r="2.8"/><circle cx="938.2" cy="600.8" r="2.8"/><circle cx="951.9" cy="600.8" r="2.8"/><circle cx="692.7" cy="614.6" r="2.8"/><circle cx="706.3" cy="614.6" r="2.8"/><circle cx="720.0" cy="614.6" r="2.8"/><circle cx="733.6" cy="614.6" r="2.8"/><circle cx="747.3" cy="614.6" r="2.8"/><circle cx="760.9" cy="614.6" r="2.8"/><circle cx="774.5" cy="614.6" r="2.8"/><circle cx="788.2" cy="614.6" r="2.8"/><circle cx="801.8" cy="614.6" r="2.8"/><circle cx="815.5" cy="614.6" r="2.8"/><circle cx="829.1" cy="614.6" r="2.8"/><circle cx="842.7" cy="614.6" r="2.8"/><circle cx="856.4" cy="614.6" r="2.8"/><circle cx="870.0" cy="614.6" r="2.8"/><circle cx="883.7" cy="614.6" r="2.8"/><circle cx="897.3" cy="614.6" r="2.8"/><circle cx="910.9" cy="614.6" r="2.8"/><circle cx="924.6" cy="614.6" r="2.8"/><circle cx="938.2" cy="614.6" r="2.8"/><circle cx="951.9" cy="614.6" r="2.8"/><circle cx="692.7" cy="628.5" r="2.8"/><circle cx="706.3" cy="628.5" r="2.8"/><circle cx="720.0" cy="628.5" r="2.8"/><circle cx="733.6" cy="628.5" r="2.8"/><circle cx="747.3" cy="628.5" r="2.8"/><circle cx="760.9" cy="628.5" r="2.8"/><circle cx="774.5" cy="628.5" r="2.8"/><circle cx="788.2" cy="628.5" r="2.8"/><circle cx="801.8" cy="628.5" r="2.8"/><circle cx="815.5" cy="628.5" r="2.8"/><circle cx="829.1" cy="628.5" r="2.8"/><circle cx="842.7" cy="628.5" r="2.8"/><circle cx="856.4" cy="628.5" r="2.8"/><circle cx="870.0" cy="628.5" r="2.8"/><circle cx="883.7" cy="628.5" r="2.8"/><circle cx="897.3" cy="628.5" r="2.8"/><circle cx="910.9" cy="628.5" r="2.8"/><circle cx="924.6" cy="628.5" r="2.8"/><circle cx="938.2" cy="628.5" r="2.8"/><circle cx="951.9" cy="628.5" r="2.8"/><circle cx="692.7" cy="642.3" r="2.8"/><circle cx="706.3" cy="642.3" r="2.8"/><circle cx="720.0" cy="642.3" r="2.8"/><circle cx="733.6" cy="642.3" r="2.8"/><circle cx="747.3" cy="642.3" r="2.8"/><circle cx="760.9" cy="642.3" r="2.8"/><circle cx="774.5" cy="642.3" r="2.8"/><circle cx="788.2" cy="642.3" r="2.8"/><circle cx="801.8" cy="642.3" r="2.8"/><circle cx="815.5" cy="642.3" r="2.8"/><circle cx="829.1" cy="642.3" r="2.8"/><circle cx="842.7" cy="642.3" r="2.8"/><circle cx="856.4" cy="642.3" r="2.8"/><circle cx="870.0" cy="642.3" r="2.8"/><circle cx="883.7" cy="642.3" r="2.8"/><circle cx="897.3" cy="642.3" r="2.8"/><circle cx="910.9" cy="642.3" r="2.8"/><circle cx="924.6" cy="642.3" r="2.8"/><circle cx="938.2" cy="642.3" r="2.8"/><circle cx="951.9" cy="642.3" r="2.8"/><circle cx="692.7" cy="656.2" r="2.8"/><circle cx="706.3" cy="656.2" r="2.8"/><circle cx="720.0" cy="656.2" r="2.8"/><circle cx="733.6" cy="656.2" r="2.8"/><circle cx="747.3" cy="656.2" r="2.8"/><circle cx="760.9" cy="656.2" r="2.8"/><circle cx="774.5" cy="656.2" r="2.8"/><circle cx="788.2" cy="656.2" r="2.8"/><circle cx="801.8" cy="656.2" r="2.8"/><circle cx="815.5" cy="656.2" r="2.8"/><circle cx="829.1" cy="656.2" r="2.8"/><circle cx="842.7" cy="656.2" r="2.8"/><circle cx="856.4" cy="656.2" r="2.8"/><circle cx="870.0" cy="656.2" r="2.8"/><circle cx="883.7" cy="656.2" r="2.8"/><circle cx="897.3" cy="656.2" r="2.8"/><circle cx="910.9" cy="656.2" r="2.8"/><circle cx="924.6" cy="656.2" r="2.8"/><circle cx="938.2" cy="656.2" r="2.8"/><circle cx="951.9" cy="656.2" r="2.8"/><circle cx="692.7" cy="670.0" r="2.8"/><circle cx="706.3" cy="670.0" r="2.8"/><circle cx="720.0" cy="670.0" r="2.8"/><circle cx="733.6" cy="670.0" r="2.8"/><circle cx="747.3" cy="670.0" r="2.8"/><circle cx="760.9" cy="670.0" r="2.8"/><circle cx="774.5" cy="670.0" r="2.8"/><circle cx="788.2" cy="670.0" r="2.8"/><circle cx="801.8" cy="670.0" r="2.8"/><circle cx="815.5" cy="670.0" r="2.8"/><circle cx="829.1" cy="670.0" r="2.8"/><circle cx="842.7" cy="670.0" r="2.8"/><circle cx="856.4" cy="670.0" r="2.8"/><circle cx="870.0" cy="670.0" r="2.8"/><circle cx="883.7" cy="670.0" r="2.8"/><circle cx="897.3" cy="670.0" r="2.8"/><circle cx="910.9" cy="670.0" r="2.8"/><circle cx="924.6" cy="670.0" r="2.8"/><circle cx="938.2" cy="670.0" r="2.8"/><circle cx="951.9" cy="670.0" r="2.8"/><circle cx="692.7" cy="683.9" r="2.8"/><circle cx="706.3" cy="683.9" r="2.8"/><circle cx="720.0" cy="683.9" r="2.8"/><circle cx="733.6" cy="683.9" r="2.8"/><circle cx="747.3" cy="683.9" r="2.8"/><circle cx="760.9" cy="683.9" r="2.8"/><circle cx="774.5" cy="683.9" r="2.8"/><circle cx="788.2" cy="683.9" r="2.8"/><circle cx="801.8" cy="683.9" r="2.8"/><circle cx="815.5" cy="683.9" r="2.8"/><circle cx="829.1" cy="683.9" r="2.8"/><circle cx="842.7" cy="683.9" r="2.8"/><circle cx="856.4" cy="683.9" r="2.8"/><circle cx="870.0" cy="683.9" r="2.8"/><circle cx="883.7" cy="683.9" r="2.8"/><circle cx="897.3" cy="683.9" r="2.8"/><circle cx="910.9" cy="683.9" r="2.8"/><circle cx="924.6" cy="683.9" r="2.8"/><circle cx="938.2" cy="683.9" r="2.8"/><circle cx="951.9" cy="683.9" r="2.8"/><circle cx="692.7" cy="697.8" r="2.8"/><circle cx="706.3" cy="697.8" r="2.8"/><circle cx="720.0" cy="697.8" r="2.8"/><circle cx="733.6" cy="697.8" r="2.8"/><circle cx="747.3" cy="697.8" r="2.8"/><circle cx="760.9" cy="697.8" r="2.8"/><circle cx="774.5" cy="697.8" r="2.8"/><circle cx="788.2" cy="697.8" r="2.8"/><circle cx="801.8" cy="697.8" r="2.8"/><circle cx="815.5" cy="697.8" r="2.8"/><circle cx="829.1" cy="697.8" r="2.8"/><circle cx="842.7" cy="697.8" r="2.8"/><circle cx="856.4" cy="697.8" r="2.8"/><circle cx="870.0" cy="697.8" r="2.8"/><circle cx="883.7" cy="697.8" r="2.8"/><circle cx="897.3" cy="697.8" r="2.8"/><circle cx="910.9" cy="697.8" r="2.8"/><circle cx="924.6" cy="697.8" r="2.8"/><circle cx="938.2" cy="697.8" r="2.8"/><circle cx="951.9" cy="697.8" r="2.8"/><circle cx="692.7" cy="711.6" r="2.8"/><circle cx="706.3" cy="711.6" r="2.8"/><circle cx="720.0" cy="711.6" r="2.8"/><circle cx="733.6" cy="711.6" r="2.8"/><circle cx="747.3" cy="711.6" r="2.8"/><circle cx="760.9" cy="711.6" r="2.8"/><circle cx="774.5" cy="711.6" r="2.8"/><circle cx="788.2" cy="711.6" r="2.8"/><circle cx="801.8" cy="711.6" r="2.8"/><circle cx="815.5" cy="711.6" r="2.8"/><circle cx="829.1" cy="711.6" r="2.8"/><circle cx="842.7" cy="711.6" r="2.8"/><circle cx="856.4" cy="711.6" r="2.8"/><circle cx="870.0" cy="711.6" r="2.8"/><circle cx="883.7" cy="711.6" r="2.8"/><circle cx="897.3" cy="711.6" r="2.8"/><circle cx="910.9" cy="711.6" r="2.8"/><circle cx="924.6" cy="711.6" r="2.8"/><circle cx="938.2" cy="711.6" r="2.8"/><circle cx="951.9" cy="711.6" r="2.8"/><circle cx="692.7" cy="725.4" r="2.8"/><circle cx="706.3" cy="725.4" r="2.8"/><circle cx="720.0" cy="725.4" r="2.8"/><circle cx="733.6" cy="725.4" r="2.8"/><circle cx="747.3" cy="725.4" r="2.8"/><circle cx="760.9" cy="725.4" r="2.8"/><circle cx="774.5" cy="725.4" r="2.8"/><circle cx="788.2" cy="725.4" r="2.8"/><circle cx="801.8" cy="725.4" r="2.8"/><circle cx="815.5" cy="725.4" r="2.8"/><circle cx="829.1" cy="725.4" r="2.8"/><circle cx="842.7" cy="725.4" r="2.8"/><circle cx="856.4" cy="725.4" r="2.8"/><circle cx="870.0" cy="725.4" r="2.8"/><circle cx="883.7" cy="725.4" r="2.8"/><circle cx="897.3" cy="725.4" r="2.8"/><circle cx="910.9" cy="725.4" r="2.8"/><circle cx="924.6" cy="725.4" r="2.8"/><circle cx="938.2" cy="725.4" r="2.8"/><circle cx="951.9" cy="725.4" r="2.8"/><circle cx="692.7" cy="739.3" r="2.8"/><circle cx="706.3" cy="739.3" r="2.8"/><circle cx="720.0" cy="739.3" r="2.8"/><circle cx="733.6" cy="739.3" r="2.8"/><circle cx="747.3" cy="739.3" r="2.8"/><circle cx="760.9" cy="739.3" r="2.8"/><circle cx="774.5" cy="739.3" r="2.8"/><circle cx="788.2" cy="739.3" r="2.8"/><circle cx="801.8" cy="739.3" r="2.8"/><circle cx="815.5" cy="739.3" r="2.8"/><circle cx="829.1" cy="739.3" r="2.8"/><circle cx="842.7" cy="739.3" r="2.8"/><circle cx="856.4" cy="739.3" r="2.8"/><circle cx="870.0" cy="739.3" r="2.8"/><circle cx="883.7" cy="739.3" r="2.8"/><circle cx="897.3" cy="739.3" r="2.8"/><circle cx="910.9" cy="739.3" r="2.8"/><circle cx="924.6" cy="739.3" r="2.8"/><circle cx="938.2" cy="739.3" r="2.8"/><circle cx="951.9" cy="739.3" r="2.8"/><circle cx="692.7" cy="753.1" r="2.8"/><circle cx="706.3" cy="753.1" r="2.8"/><circle cx="720.0" cy="753.1" r="2.8"/><circle cx="733.6" cy="753.1" r="2.8"/><circle cx="747.3" cy="753.1" r="2.8"/><circle cx="760.9" cy="753.1" r="2.8"/><circle cx="774.5" cy="753.1" r="2.8"/><circle cx="788.2" cy="753.1" r="2.8"/><circle cx="801.8" cy="753.1" r="2.8"/><circle cx="815.5" cy="753.1" r="2.8"/><circle cx="829.1" cy="753.1" r="2.8"/><circle cx="842.7" cy="753.1" r="2.8"/><circle cx="856.4" cy="753.1" r="2.8"/><circle cx="870.0" cy="753.1" r="2.8"/><circle cx="883.7" cy="753.1" r="2.8"/><circle cx="897.3" cy="753.1" r="2.8"/><circle cx="910.9" cy="753.1" r="2.8"/><circle cx="924.6" cy="753.1" r="2.8"/><circle cx="938.2" cy="753.1" r="2.8"/><circle cx="951.9" cy="753.1" r="2.8"/><circle cx="692.7" cy="767.0" r="2.8"/><circle cx="706.3" cy="767.0" r="2.8"/><circle cx="720.0" cy="767.0" r="2.8"/><circle cx="733.6" cy="767.0" r="2.8"/><circle cx="747.3" cy="767.0" r="2.8"/><circle cx="760.9" cy="767.0" r="2.8"/><circle cx="774.5" cy="767.0" r="2.8"/><circle cx="788.2" cy="767.0" r="2.8"/><circle cx="801.8" cy="767.0" r="2.8"/><circle cx="815.5" cy="767.0" r="2.8"/><circle cx="829.1" cy="767.0" r="2.8"/><circle cx="842.7" cy="767.0" r="2.8"/><circle cx="856.4" cy="767.0" r="2.8"/><circle cx="870.0" cy="767.0" r="2.8"/><circle cx="883.7" cy="767.0" r="2.8"/><circle cx="897.3" cy="767.0" r="2.8"/><circle cx="910.9" cy="767.0" r="2.8"/><circle cx="924.6" cy="767.0" r="2.8"/><circle cx="938.2" cy="767.0" r="2.8"/><circle cx="951.9" cy="767.0" r="2.8"/><circle cx="692.7" cy="780.8" r="2.8"/><circle cx="706.3" cy="780.8" r="2.8"/><circle cx="720.0" cy="780.8" r="2.8"/><circle cx="733.6" cy="780.8" r="2.8"/><circle cx="747.3" cy="780.8" r="2.8"/><circle cx="760.9" cy="780.8" r="2.8"/><circle cx="774.5" cy="780.8" r="2.8"/><circle cx="788.2" cy="780.8" r="2.8"/><circle cx="801.8" cy="780.8" r="2.8"/><circle cx="815.5" cy="780.8" r="2.8"/><circle cx="829.1" cy="780.8" r="2.8"/><circle cx="842.7" cy="780.8" r="2.8"/><circle cx="856.4" cy="780.8" r="2.8"/><circle cx="870.0" cy="780.8" r="2.8"/><circle cx="883.7" cy="780.8" r="2.8"/><circle cx="897.3" cy="780.8" r="2.8"/><circle cx="910.9" cy="780.8" r="2.8"/><circle cx="924.6" cy="780.8" r="2.8"/><circle cx="938.2" cy="780.8" r="2.8"/><circle cx="951.9" cy="780.8" r="2.8"/><circle cx="692.7" cy="794.7" r="2.8"/><circle cx="706.3" cy="794.7" r="2.8"/><circle cx="720.0" cy="794.7" r="2.8"/><circle cx="733.6" cy="794.7" r="2.8"/><circle cx="747.3" cy="794.7" r="2.8"/><circle cx="760.9" cy="794.7" r="2.8"/><circle cx="774.5" cy="794.7" r="2.8"/><circle cx="788.2" cy="794.7" r="2.8"/><circle cx="801.8" cy="794.7" r="2.8"/><circle cx="815.5" cy="794.7" r="2.8"/><circle cx="829.1" cy="794.7" r="2.8"/><circle cx="842.7" cy="794.7" r="2.8"/><circle cx="856.4" cy="794.7" r="2.8"/><circle cx="870.0" cy="794.7" r="2.8"/><circle cx="883.7" cy="794.7" r="2.8"/><circle cx="897.3" cy="794.7" r="2.8"/><circle cx="910.9" cy="794.7" r="2.8"/><circle cx="924.6" cy="794.7" r="2.8"/><circle cx="938.2" cy="794.7" r="2.8"/><circle cx="951.9" cy="794.7" r="2.8"/><circle cx="692.7" cy="808.5" r="2.8"/><circle cx="706.3" cy="808.5" r="2.8"/><circle cx="720.0" cy="808.5" r="2.8"/><circle cx="733.6" cy="808.5" r="2.8"/><circle cx="747.3" cy="808.5" r="2.8"/><circle cx="760.9" cy="808.5" r="2.8"/><circle cx="774.5" cy="808.5" r="2.8"/><circle cx="788.2" cy="808.5" r="2.8"/><circle cx="801.8" cy="808.5" r="2.8"/><circle cx="815.5" cy="808.5" r="2.8"/><circle cx="829.1" cy="808.5" r="2.8"/><circle cx="842.7" cy="808.5" r="2.8"/><circle cx="856.4" cy="808.5" r="2.8"/><circle cx="870.0" cy="808.5" r="2.8"/><circle cx="883.7" cy="808.5" r="2.8"/><circle cx="897.3" cy="808.5" r="2.8"/><circle cx="910.9" cy="808.5" r="2.8"/><circle cx="924.6" cy="808.5" r="2.8"/><circle cx="938.2" cy="808.5" r="2.8"/><circle cx="951.9" cy="808.5" r="2.8"/><circle cx="692.7" cy="822.4" r="2.8"/><circle cx="706.3" cy="822.4" r="2.8"/><circle cx="720.0" cy="822.4" r="2.8"/><circle cx="733.6" cy="822.4" r="2.8"/><circle cx="747.3" cy="822.4" r="2.8"/><circle cx="760.9" cy="822.4" r="2.8"/><circle cx="774.5" cy="822.4" r="2.8"/><circle cx="788.2" cy="822.4" r="2.8"/><circle cx="801.8" cy="822.4" r="2.8"/><circle cx="815.5" cy="822.4" r="2.8"/><circle cx="829.1" cy="822.4" r="2.8"/><circle cx="842.7" cy="822.4" r="2.8"/><circle cx="856.4" cy="822.4" r="2.8"/><circle cx="870.0" cy="822.4" r="2.8"/><circle cx="883.7" cy="822.4" r="2.8"/><circle cx="897.3" cy="822.4" r="2.8"/><circle cx="910.9" cy="822.4" r="2.8"/><circle cx="924.6" cy="822.4" r="2.8"/><circle cx="938.2" cy="822.4" r="2.8"/><circle cx="951.9" cy="822.4" r="2.8"/><circle cx="692.7" cy="836.2" r="2.8"/><circle cx="706.3" cy="836.2" r="2.8"/><circle cx="720.0" cy="836.2" r="2.8"/><circle cx="733.6" cy="836.2" r="2.8"/><circle cx="747.3" cy="836.2" r="2.8"/><circle cx="760.9" cy="836.2" r="2.8"/><circle cx="774.5" cy="836.2" r="2.8"/><circle cx="788.2" cy="836.2" r="2.8"/><circle cx="801.8" cy="836.2" r="2.8"/><circle cx="815.5" cy="836.2" r="2.8"/><circle cx="829.1" cy="836.2" r="2.8"/><circle cx="842.7" cy="836.2" r="2.8"/><circle cx="856.4" cy="836.2" r="2.8"/><circle cx="870.0" cy="836.2" r="2.8"/><circle cx="883.7" cy="836.2" r="2.8"/><circle cx="897.3" cy="836.2" r="2.8"/><circle cx="910.9" cy="836.2" r="2.8"/><circle cx="924.6" cy="836.2" r="2.8"/><circle cx="938.2" cy="836.2" r="2.8"/><circle cx="951.9" cy="836.2" r="2.8"/><circle cx="692.7" cy="850.1" r="2.8"/><circle cx="706.3" cy="850.1" r="2.8"/><circle cx="720.0" cy="850.1" r="2.8"/><circle cx="733.6" cy="850.1" r="2.8"/><circle cx="747.3" cy="850.1" r="2.8"/><circle cx="760.9" cy="850.1" r="2.8"/><circle cx="774.5" cy="850.1" r="2.8"/><circle cx="788.2" cy="850.1" r="2.8"/><circle cx="801.8" cy="850.1" r="2.8"/><circle cx="815.5" cy="850.1" r="2.8"/><circle cx="829.1" cy="850.1" r="2.8"/><circle cx="842.7" cy="850.1" r="2.8"/><circle cx="856.4" cy="850.1" r="2.8"/><circle cx="870.0" cy="850.1" r="2.8"/><circle cx="883.7" cy="850.1" r="2.8"/><circle cx="897.3" cy="850.1" r="2.8"/><circle cx="910.9" cy="850.1" r="2.8"/><circle cx="924.6" cy="850.1" r="2.8"/><circle cx="938.2" cy="850.1" r="2.8"/><circle cx="951.9" cy="850.1" r="2.8"/><circle cx="692.7" cy="863.9" r="2.8"/><circle cx="706.3" cy="863.9" r="2.8"/><circle cx="720.0" cy="863.9" r="2.8"/><circle cx="733.6" cy="863.9" r="2.8"/><circle cx="747.3" cy="863.9" r="2.8"/><circle cx="760.9" cy="863.9" r="2.8"/><circle cx="774.5" cy="863.9" r="2.8"/><circle cx="788.2" cy="863.9" r="2.8"/><circle cx="801.8" cy="863.9" r="2.8"/><circle cx="815.5" cy="863.9" r="2.8"/><circle cx="829.1" cy="863.9" r="2.8"/><circle cx="842.7" cy="863.9" r="2.8"/><circle cx="856.4" cy="863.9" r="2.8"/><circle cx="870.0" cy="863.9" r="2.8"/><circle cx="883.7" cy="863.9" r="2.8"/><circle cx="897.3" cy="863.9" r="2.8"/><circle cx="910.9" cy="863.9" r="2.8"/><circle cx="924.6" cy="863.9" r="2.8"/><circle cx="938.2" cy="863.9" r="2.8"/><circle cx="951.9" cy="863.9" r="2.8"/></g>
<g fill="#000"><rect x="265.0" y="791" width="5.9" height="27.9" /><rect x="278.7" y="791" width="5.9" height="27.9" /><rect x="292.3" y="791" width="5.9" height="27.9" /><rect x="305.9" y="791" width="5.9" height="27.9" /><rect x="319.6" y="791" width="5.9" height="27.9" /><rect x="333.2" y="791" width="5.9" height="27.9" /><rect x="346.8" y="791" width="5.9" height="27.9" /><rect x="360.5" y="791" width="5.9" height="27.9" /><rect x="374.1" y="791" width="5.9" height="27.9" /><rect x="387.7" y="791" width="5.9" height="27.9" /><rect x="401.3" y="791" width="5.9" height="27.9" /><rect x="415.0" y="791" width="5.9" height="27.9" /><rect x="428.6" y="791" width="5.9" height="27.9" /><rect x="442.2" y="791" width="5.9" height="27.9" /><rect x="455.9" y="791" width="5.9" height="27.9" /><rect x="469.5" y="791" width="5.9" height="27.9" /><rect x="483.1" y="791" width="5.9" height="27.9" /><rect x="496.8" y="791" width="5.9" height="27.9" /><rect x="510.4" y="791" width="5.9" height="27.9" /><rect x="524.0" y="791" width="5.9" height="27.9" /></g>
<polygon class="a" points="76.5,208.6 71.4,229.4 81.6,229.4"/><polygon class="a" points="76.5,983.8 71.4,963.0 81.6,963.0"/><polygon class="a" points="114.5,518.6 109.4,539.4 119.6,539.4"/><polygon class="a" points="114.5,983.8 109.4,963.0 119.6,963.0"/><polygon class="a" points="398.0,165.5 418.0,160.4 418.0,170.6"/><polygon class="a" points="822.0,165.5 802.0,160.4 802.0,170.6"/><polygon class="a" points="1007.5,497.4 987.5,492.3 987.5,502.5"/><polygon class="a" points="1061.7,497.4 1081.7,492.3 1081.7,502.5"/><polygon class="a" points="1168.0,135.0 1188.8,129.9 1188.8,140.1"/><polygon class="a" points="1771.5,135.0 1750.7,129.9 1750.7,140.1"/><polygon class="a" points="1254.8,181.5 1275.6,176.4 1275.6,186.6"/><polygon class="a" points="1771.5,181.5 1750.7,176.4 1750.7,186.6"/><polygon class="a" points="1136.0,513.5 1130.9,534.3 1141.1,534.3"/><polygon class="a" points="1136.0,983.8 1130.9,963.0 1141.1,963.0"/><polygon class="a" points="1224.5,662.5 1219.4,683.3 1229.6,683.3"/><polygon class="a" points="1224.5,983.8 1219.4,963.0 1229.6,963.0"/><polygon class="a" points="1817.5,208.0 1812.4,228.8 1822.6,228.8"/><polygon class="a" points="1817.5,983.8 1812.4,963.0 1822.6,963.0"/>
</svg>
</body></html>
